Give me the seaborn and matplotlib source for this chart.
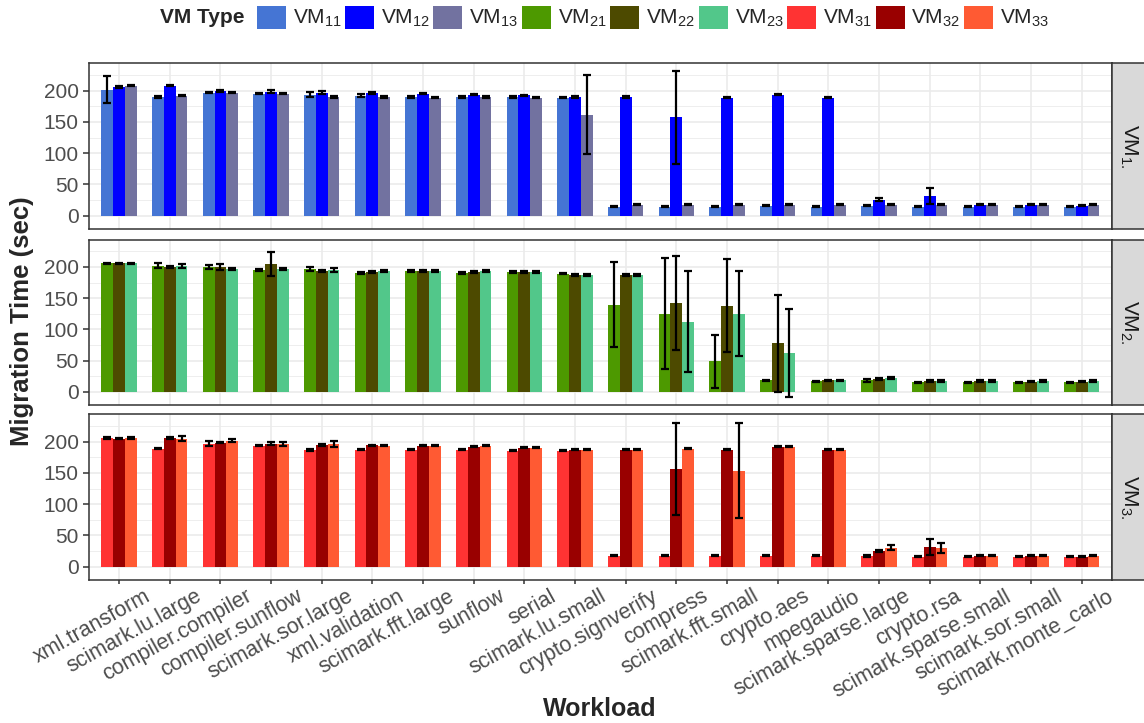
import numpy as np
import pandas as pd
import matplotlib
matplotlib.use("Agg")
import matplotlib.pyplot as plt
import seaborn as sns
from matplotlib.patches import Patch
from matplotlib.ticker import MultipleLocator
import matplotlib.transforms as mtransforms

workloads = ["xml.transform", "scimark.lu.large", "compiler.compiler", "compiler.sunflow",
             "scimark.sor.large", "xml.validation", "scimark.fft.large", "sunflow", "serial",
             "scimark.lu.small", "crypto.signverify", "compress", "scimark.fft.small",
             "crypto.aes", "mpegaudio", "scimark.sparse.large", "crypto.rsa",
             "scimark.sparse.small", "scimark.sor.small", "scimark.monte_carlo"]

VM11 = [201.6, 190, 197, 195, 193.6, 192, 190, 190, 190, 189, 14.4, 14.4, 14.4, 16, 14.4, 16, 14.4, 14.4, 14.4, 14.4]
VM11_err = [21.4, 1, 1.5, 1, 4.5, 2, 1, 1.2, 1, 1, 1, 1, 1, 1, 1, 1, 1, 1, 1, 1]
VM12 = [206, 208, 200, 198, 197, 196, 195, 193.6, 192.5, 190, 190, 157.5, 188.8, 193.6, 188.8, 25.6, 31.2, 17.6, 17.6, 16]
VM12_err = [1.5, 1, 1.5, 2.5, 2.5, 1.5, 1, 1, 1, 1, 1, 74.4, 1, 1, 1, 2.5, 12.5, 1, 1, 1]
VM13 = [208, 192, 197, 195, 190, 190, 189, 190, 189, 161.6, 17.6, 17.6, 17.6, 17.6, 17.6, 17.6, 17.6, 17.6, 17.6, 17.6]
VM13_err = [1.2, 1, 1, 1, 1, 1, 1, 1, 1, 63, 1, 1, 1, 1, 1, 1, 1, 1, 1, 1]

VM21 = [206, 201.6, 200, 195, 196.8, 190.5, 193.6, 190.5, 192, 189, 139.4, 125.4, 48.8, 18.5, 17, 18.5, 15.3, 15.3, 15.3, 15.3]
VM21_err = [1, 4, 2.5, 1, 2.5, 1, 1, 1, 1, 1, 68.2, 89.4, 41.8, 1, 1, 2, 1, 1, 1, 1]
VM22 = [206, 200, 200, 204.7, 193.6, 192, 193.6, 192, 192, 187, 187, 142.5, 138, 78, 18.5, 20.6, 17.5, 17.5, 16.4, 16.4]
VM22_err = [1, 1.5, 5, 19.6, 1.5, 1, 1, 1, 1, 1, 1, 74.6, 74.6, 77.8, 1, 2, 1, 1, 1, 1]
VM23 = [206, 201.6, 196.8, 196.8, 195, 193.6, 193.6, 193.6, 192, 187, 187, 112.5, 125.2, 62.2, 18.5, 22.2, 17.5, 17.5, 17.5, 17.5]
VM23_err = [1, 2.5, 1, 1, 3, 1, 1, 1, 1, 1, 1, 81.2, 68, 70.9, 1, 1, 1, 1, 1, 1]

VM31 = [206, 189, 196.8, 193.6, 187.3, 187.3, 187.3, 187.3, 185.7, 185.7, 17.5, 17.5, 17.5, 17.5, 17.5, 17.5, 15.9, 15.9, 15.9, 15.9]
VM31_err = [1, 1.5, 4, 1, 1.5, 1, 1, 1, 1, 1, 1, 1, 1, 1, 1, 1.5, 1, 1, 1, 1]
VM32 = [204.8, 206, 198.4, 196.8, 195, 194, 193.6, 192, 190.5, 187.3, 187.3, 156, 187.3, 192, 187.3, 25.4, 31, 17.5, 17.5, 15.9]
VM32_err = [1, 1, 1, 2, 2, 1, 1, 1.2, 1, 1, 1, 73.8, 1, 1, 1, 2, 12.5, 1, 1, 1]
VM33 = [206, 204.8, 201.6, 196.8, 196.8, 193.6, 193.6, 193.6, 190.5, 187.3, 187.3, 189, 153.5, 192, 187.3, 30.2, 30.2, 17.5, 17.5, 17.5]
VM33_err = [1, 4.5, 2, 3, 5, 1, 1, 1, 1, 1, 1, 1, 76, 1, 1, 4.3, 7.7, 1, 1, 1]

vm_names = ["VM11", "VM12", "VM13", "VM21", "VM22", "VM23", "VM31", "VM32", "VM33"]
vm_labels = [r"VM$_{11}$", r"VM$_{12}$", r"VM$_{13}$", r"VM$_{21}$", r"VM$_{22}$",
             r"VM$_{23}$", r"VM$_{31}$", r"VM$_{32}$", r"VM$_{33}$"]
strip_labels = [r"VM$_{1.}$", r"VM$_{2.}$", r"VM$_{3.}$"]
colors = ["#4575D4", "#0000FF", "#7272A0", "#4D9900", "#4D4A00", "#52C78A",
          "#FF3333", "#990000", "#FF5A33"]

series = {
    "VM11": (VM11, VM11_err), "VM12": (VM12, VM12_err), "VM13": (VM13, VM13_err),
    "VM21": (VM21, VM21_err), "VM22": (VM22, VM22_err), "VM23": (VM23, VM23_err),
    "VM31": (VM31, VM31_err), "VM32": (VM32, VM32_err), "VM33": (VM33, VM33_err),
}
palette = dict(zip(vm_names, colors))

rows = []
for i, name in enumerate(vm_names):
    vals, errs = series[name]
    for w, v, e in zip(workloads, vals, errs):
        rows.append({"workload": w, "vm": name, "group": i // 3, "time": v, "err": e})
df = pd.DataFrame(rows)

sns.set_style("white")
plt.rcParams['font.family'] = ['Liberation Sans', 'DejaVu Sans']
plt.rcParams['mathtext.fontset'] = 'custom'
plt.rcParams['mathtext.rm'] = 'Liberation Sans'
plt.rcParams['mathtext.it'] = 'Liberation Sans:italic'
plt.rcParams['mathtext.bf'] = 'Liberation Sans:bold'

W, H = 1144, 723
fig = plt.figure(figsize=(W / 100, H / 100), dpi=100)
left, right = 88.7, 1112
panel_tops = [63.3, 239.6, 414.3]
panel_h = 165.7
dark = "#333333"

for g, t in enumerate(panel_tops):
    ax = fig.add_axes([left / W, 1 - (t + panel_h) / H, (right - left) / W, panel_h / H])
    sub = df[df.group == g]
    hue_order = vm_names[3 * g:3 * g + 3]
    sns.barplot(data=sub, x="workload", y="time", hue="vm", order=workloads,
                hue_order=hue_order, palette=palette, width=0.7, saturation=1,
                errorbar=None, legend=False, ax=ax, zorder=2,
                linewidth=0, edgecolor='none')
    for cont, vm in zip(ax.containers, hue_order):
        s = sub[sub.vm == vm].set_index("workload").loc[workloads]
        xs = [b.get_x() + b.get_width() / 2 for b in cont]
        ax.errorbar(xs, s["time"].values, yerr=s["err"].values, fmt='none', ecolor='black',
                    elinewidth=1.6, capsize=3, capthick=1.6, zorder=3)
    ax.set_axisbelow(True)
    ax.set_xlim(-0.6, 19.6)
    ax.set_ylim(-21.3, 243.8)
    ax.yaxis.set_major_locator(MultipleLocator(50))
    ax.yaxis.set_minor_locator(MultipleLocator(25))
    ax.grid(which='major', color='#EBEBEB', lw=1.2)
    ax.grid(which='minor', axis='y', color='#EBEBEB', lw=0.6)
    ax.tick_params(axis='y', which='major', length=4.3, width=1.1, color=dark,
                   labelsize=15, labelcolor='#4D4D4D', pad=3, left=True)
    ax.tick_params(axis='y', which='minor', length=0)
    for sp in ax.spines.values():
        sp.set_color(dark)
        sp.set_linewidth(1.1)
    ax.set_xlabel("")
    ax.set_ylabel("")
    if g < 2:
        ax.tick_params(axis='x', length=0, labelbottom=False)
    else:
        ax.set_xticks(range(len(workloads)))
        ax.set_xticklabels(workloads, rotation=29, ha='right', rotation_mode='anchor',
                           fontsize=15.5, color='#4D4D4D')
        ax.tick_params(axis='x', length=3.2, width=1.1, color=dark, pad=1, bottom=True)
        off = mtransforms.ScaledTranslation(25 / 100, 0, fig.dpi_scale_trans)
        for lab in ax.get_xticklabels():
            lab.set_transform(lab.get_transform() + off)

    sax = fig.add_axes([right / W, 1 - (t + panel_h) / H, 34 / W, panel_h / H])
    sax.set_facecolor('#D9D9D9')
    sax.set_xticks([])
    sax.set_yticks([])
    for sp in sax.spines.values():
        sp.set_color(dark)
        sp.set_linewidth(1.1)
    sax.text(0.5, 0.5, strip_labels[g], rotation=270, ha='center', va='center',
             fontsize=15, color='#1A1A1A', transform=sax.transAxes)

handles = [Patch(facecolor=palette[v], edgecolor='none') for v in vm_names]
fig.legend(handles=handles, labels=vm_labels, loc='center left',
           bbox_to_anchor=(256.7 / W, 1 - 17.5 / H), ncol=9, frameon=False, fontsize=15,
           handlelength=1.39, handleheight=1.35, handletextpad=0.33, columnspacing=0.17,
           borderpad=0, borderaxespad=0)
fig.text(160 / W, 1 - 17.5 / H, "VM Type", fontweight='bold', fontsize=15,
         ha='left', va='center')
fig.text(22 / W, 1 - 321.6 / H, "Migration Time (sec)", rotation=90, fontweight='bold',
         fontsize=18.5, ha='center', va='center')
fig.text(600 / W, 1 - 709 / H, "Workload", fontweight='bold', fontsize=18,
         ha='center', va='center')

fig.savefig("out.png", dpi=100)
